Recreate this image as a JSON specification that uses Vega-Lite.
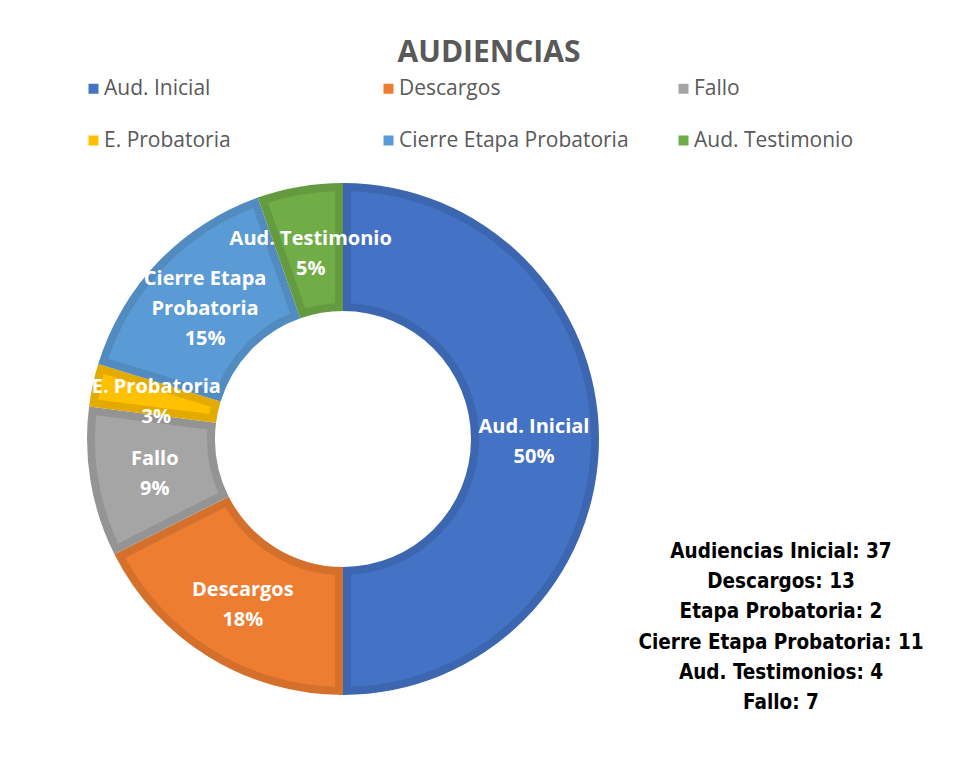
{
  "$schema": "https://vega.github.io/schema/vega-lite/v6.json",
  "background": "white",
  "padding": {"left": 83, "top": 38, "right": 10, "bottom": 10},
  "title": {
    "text": "AUDIENCIAS",
    "anchor": "middle",
    "fontSize": 30,
    "font": "Open Sans",
    "fontWeight": "bold",
    "color": "#595959",
    "offset": 10,
    "dx": -18
  },
  "datasets": {
    "slices": [
      {"k": 1, "cat": "Aud. Inicial", "value": 37, "label2": ["Aud. Inicial", "50%"], "label3": ""},
      {"k": 2, "cat": "Descargos", "value": 13, "label2": ["Descargos", "18%"], "label3": ""},
      {"k": 3, "cat": "Fallo", "value": 7, "label2": ["Fallo", "9%"], "label3": ""},
      {"k": 4, "cat": "E. Probatoria", "value": 2, "label2": ["E. Probatoria", "3%"], "label3": ""},
      {"k": 5, "cat": "Cierre Etapa Probatoria", "value": 11, "label2": "", "label3": ["Cierre Etapa", "Probatoria", "15%"]},
      {"k": 6, "cat": "Aud. Testimonio", "value": 4, "label2": ["Aud. Testimonio", "5%"], "label3": ""}
    ],
    "notes": [
      {"line": "Audiencias Inicial: 37"},
      {"line": "Descargos: 13"},
      {"line": "Etapa Probatoria: 2"},
      {"line": "Cierre Etapa Probatoria: 11"},
      {"line": "Aud. Testimonios: 4"},
      {"line": "Fallo: 7"}
    ]
  },
  "spacing": 32,
  "hconcat": [
    {
      "width": 512,
      "height": 512,
      "data": {"name": "slices"},
      "encoding": {
        "theta": {"field": "value", "type": "quantitative", "stack": true},
        "order": {"field": "k", "type": "quantitative"}
      },
      "layer": [
        {
          "mark": {"type": "arc", "outerRadius": 256, "innerRadius": 128},
          "encoding": {
            "fill": {
              "field": "k",
              "type": "ordinal",
              "scale": {
                "domain": [1, 2, 3, 4, 5, 6],
                "range": ["#3D66B0", "#D46F2C", "#949494", "#E3AB00", "#528BC0", "#659B40"]
              },
              "legend": null
            }
          }
        },
        {
          "mark": {"type": "arc", "outerRadius": 248, "innerRadius": 136, "padAngle": 0.056},
          "encoding": {
            "color": {
              "field": "cat",
              "type": "nominal",
              "scale": {
                "domain": ["Aud. Inicial", "Descargos", "Fallo", "E. Probatoria", "Cierre Etapa Probatoria", "Aud. Testimonio"],
                "range": ["#4472C4", "#ED7D31", "#A5A5A5", "#FFC000", "#5B9BD5", "#70AD47"]
              },
              "legend": {
                "title": null,
                "orient": "none",
                "legendX": -4,
                "legendY": -105,
                "padding": 0,
                "direction": "horizontal",
                "columns": 3,
                "gridAlign": "all",
                "columnPadding": 44,
                "rowPadding": 30,
                "symbolType": "square",
                "symbolSize": 100,
                "symbolStrokeWidth": 0,
                "labelFont": "Open Sans",
                "labelFontSize": 21,
                "labelColor": "#595959",
                "labelOffset": 0,
                "labelLimit": 400
              }
            }
          }
        },
        {
          "mark": {
            "type": "text",
            "radius": 191,
            "font": "Open Sans",
            "fontSize": 20,
            "fontWeight": "bold",
            "color": "white",
            "lineHeight": 30,
            "baseline": "middle",
            "align": "center",
            "dy": -12
          },
          "encoding": {
            "text": {"field": "label2"}
          }
        },
        {
          "mark": {
            "type": "text",
            "radius": 191,
            "font": "Open Sans",
            "fontSize": 20,
            "fontWeight": "bold",
            "color": "white",
            "lineHeight": 30,
            "baseline": "middle",
            "align": "center",
            "dy": -28
          },
          "encoding": {
            "text": {"field": "label3"}
          }
        }
      ]
    },
    {
      "width": 300,
      "height": 536,
      "data": {"name": "notes"},
      "mark": {
        "type": "text",
        "font": "DejaVu Sans Condensed",
        "fontSize": 20.5,
        "fontWeight": "bold",
        "color": "black",
        "align": "center",
        "baseline": "middle"
      },
      "encoding": {
        "y": {
          "field": "line",
          "type": "nominal",
          "sort": null,
          "axis": null,
          "scale": {"type": "band", "paddingInner": 0, "paddingOuter": 0, "range": [353.5, 535.5]}
        },
        "text": {"field": "line"}
      }
    }
  ],
  "config": {
    "view": {"stroke": null}
  }
}
